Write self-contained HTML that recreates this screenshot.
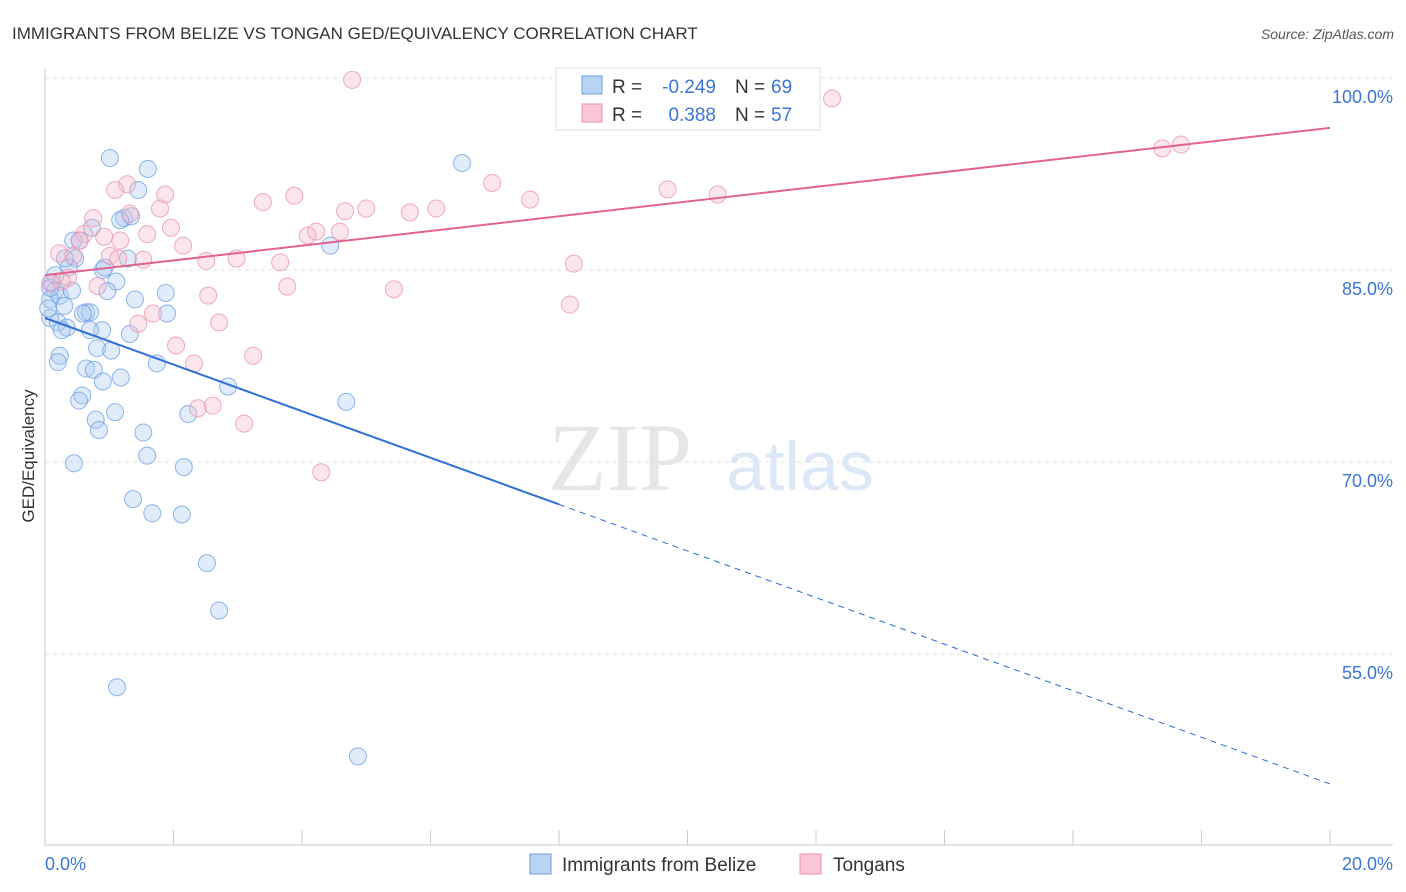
<!DOCTYPE html>
<html><head><meta charset="utf-8">
<style>
body{margin:0;background:#fff;font-family:"Liberation Sans",sans-serif;}
#wrap{position:relative;width:1406px;height:892px;overflow:hidden;}
</style></head>
<body>
<div id="wrap">
<svg id="svg" width="1406" height="892" xmlns="http://www.w3.org/2000/svg">
<text x="12" y="39" font-size="17" fill="#333">IMMIGRANTS FROM BELIZE VS TONGAN GED/EQUIVALENCY CORRELATION CHART</text>
<text x="1394" y="39" font-size="14" fill="#555" text-anchor="end" font-style="italic">Source: ZipAtlas.com</text>
<text x="620" y="490" font-size="96" fill="#e6e6e6" font-family="Liberation Serif,serif" text-anchor="middle">ZIP</text>
<text x="800" y="490" font-size="70" fill="#dce8f8" text-anchor="middle">atlas</text>
<g id="grid"></g>
<g id="marks"></g>
<text transform="translate(34,456) rotate(-90)" font-size="17" fill="#333" text-anchor="middle">GED/Equivalency</text>
<g>
<rect x="556" y="68" width="264" height="62" fill="#fff" stroke="#ddd"/>
<rect x="582" y="76" width="20" height="18" fill="#b9d3f4" stroke="#6a9fe0"/>
<rect x="582" y="104" width="20" height="18" fill="#f9c7d7" stroke="#ea8fae"/>
<text x="612" y="93" font-size="19" fill="#333">R =</text>
<text x="716" y="93" font-size="19" fill="#3b75d6" text-anchor="end">-0.249</text>
<text x="735" y="93" font-size="19" fill="#333">N =</text>
<text x="771" y="93" font-size="19" fill="#3b75d6">69</text>
<text x="612" y="121" font-size="19" fill="#333">R =</text>
<text x="716" y="121" font-size="19" fill="#3b75d6" text-anchor="end">0.388</text>
<text x="735" y="121" font-size="19" fill="#333">N =</text>
<text x="771" y="121" font-size="19" fill="#3b75d6">57</text>
</g>
<g>
<rect x="530" y="854" width="21" height="20" fill="#b9d3f4" stroke="#6a9fe0"/>
<text x="562" y="871" font-size="19" fill="#333">Immigrants from Belize</text>
<rect x="800" y="854" width="21" height="20" fill="#f9c7d7" stroke="#ea8fae"/>
<text x="833" y="871" font-size="19" fill="#333">Tongans</text>
</g>
</svg>
</div>
<script>
const blueX=[1.01,1.60,1.45,1.23,1.34,6.49,4.44,0.44,0.54,0.47,0.37,0.90,1.29,1.11,0.97,1.40,1.88,1.90,0.11,0.16,0.23,0.42,0.08,0.30,0.08,0.20,0.34,0.64,0.70,0.59,0.89,1.32,0.23,0.20,0.81,1.03,0.64,0.76,0.90,1.18,1.74,2.85,0.58,0.53,1.09,0.79,0.84,2.23,1.53,4.69,0.45,1.59,2.16,1.37,1.67,2.13,2.52,2.71,1.12,4.87,0.05,0.26,0.70,0.08,0.16,0.93,0.31,0.73,1.17];
const blueY=[93.75,92.9,91.25,89.05,89.2,93.36,86.9,87.3,87.3,85.9,85.2,85.0,85.9,84.1,83.35,82.7,83.2,81.6,84.0,83.4,83.0,83.4,82.7,82.2,81.25,80.9,80.5,81.7,81.7,81.6,80.3,80.0,78.3,77.8,78.9,78.7,77.3,77.2,76.3,76.6,77.7,75.9,75.2,74.8,73.9,73.3,72.5,73.75,72.3,74.7,69.9,70.5,69.6,67.1,66.0,65.9,62.1,58.4,52.4,47.0,82.0,80.3,80.3,83.6,84.6,85.2,85.9,88.3,88.9];
const pinkX=[4.78,12.25,17.39,17.68,1.28,1.09,1.87,3.88,6.96,9.69,10.47,7.55,3.39,1.79,1.32,4.67,5.0,5.68,6.09,0.75,1.96,1.59,1.17,0.92,0.61,4.09,4.22,4.59,2.15,0.22,0.44,1.01,1.53,2.51,2.98,3.66,8.23,0.36,0.08,0.82,3.77,5.43,2.54,8.17,1.68,1.45,2.71,2.04,3.24,2.32,2.38,2.61,3.10,4.30,0.54,0.26,1.14];
const pinkY=[99.85,98.4,94.5,94.8,91.7,91.25,90.9,90.8,91.8,91.3,90.9,90.5,90.3,89.8,89.4,89.6,89.8,89.5,89.8,89.05,88.3,87.8,87.3,87.6,87.8,87.7,88.0,88.0,86.9,86.3,86.1,86.1,85.8,85.7,85.9,85.6,85.5,84.4,84.0,83.75,83.7,83.5,83.0,82.3,81.6,80.8,80.9,79.1,78.3,77.7,74.2,74.4,73.0,69.2,87.3,84.1,85.9];
const blueTrend=[81.25,44.85];
const blueSolidEnd=8.0;
const pinkTrend=[84.6,96.1];
const yTicks=[100,85,70,55];
const NS='http://www.w3.org/2000/svg';
const X=v=>45+v/20*1285, Y=v=>78+(100-v)*12.8;
function mk(tag,attrs,parent){const e=document.createElementNS(NS,tag);for(const k in attrs)e.setAttribute(k,attrs[k]);parent.appendChild(e);return e;}
const grid=document.getElementById('grid'),marks=document.getElementById('marks'),svg=document.getElementById('svg');
yTicks.forEach(v=>{
  const l=mk('line',{x1:45,x2:1393,y1:Y(v),y2:Y(v),stroke:'#e2e2e2','stroke-dasharray':'4,4'},grid);
  
  
  const t=mk('text',{x:1393,y:Y(v)+25,'font-size':18,fill:'#3b75d6','text-anchor':'end'},svg);
  t.textContent=v.toFixed(1)+'%';
  
  
});
const ax=mk('line',{x1:45,x2:45,y1:68,y2:845,stroke:'#ccc'},grid);


const bx=mk('line',{x1:45,x2:1393,y1:845,y2:845,stroke:'#ccc'},grid);


[0,2,4,6,8,10,12,14,16,18,20].forEach(v=>{
  const t=mk('line',{x1:X(v),x2:X(v),y1:830,y2:845,stroke:'#ccc'},grid);
  
  
});
[[0,'start',45],[20,'end',1393]].forEach(([v,a,px])=>{
  const t=mk('text',{x:px,y:870,'font-size':18,fill:'#3b75d6','text-anchor':a},svg);
  t.textContent=v.toFixed(1)+'%';
  
  
});
function pts(xs,ys,fill,stroke,name){
  xs.forEach((x,i)=>{
    const c=mk('circle',{cx:X(x),cy:Y(ys[i]),r:8.5,fill:fill,'fill-opacity':0.35,stroke:stroke,'stroke-opacity':0.75,'stroke-width':1},marks);
    
    
  });
}
pts(blueX,blueY,'#a9c8f0','#6a9fe0','belize-point');
pts(pinkX,pinkY,'#f5b8cb','#ea8fae','tongan-point');
const by=x=>blueTrend[0]+(blueTrend[1]-blueTrend[0])*x/20;
const l1=mk('line',{x1:X(0),y1:Y(by(0)),x2:X(blueSolidEnd),y2:Y(by(blueSolidEnd)),stroke:'#2f6fd6','stroke-width':2},marks);


const l2=mk('line',{x1:X(blueSolidEnd),y1:Y(by(blueSolidEnd)),x2:X(20),y2:Y(by(20)),stroke:'#2f6fd6','stroke-width':1,'stroke-dasharray':'6,5'},marks);


const l3=mk('line',{x1:X(0),y1:Y(pinkTrend[0]),x2:X(20),y2:Y(pinkTrend[1]),stroke:'#e0648f','stroke-width':2},marks);


</script>
</body></html>
